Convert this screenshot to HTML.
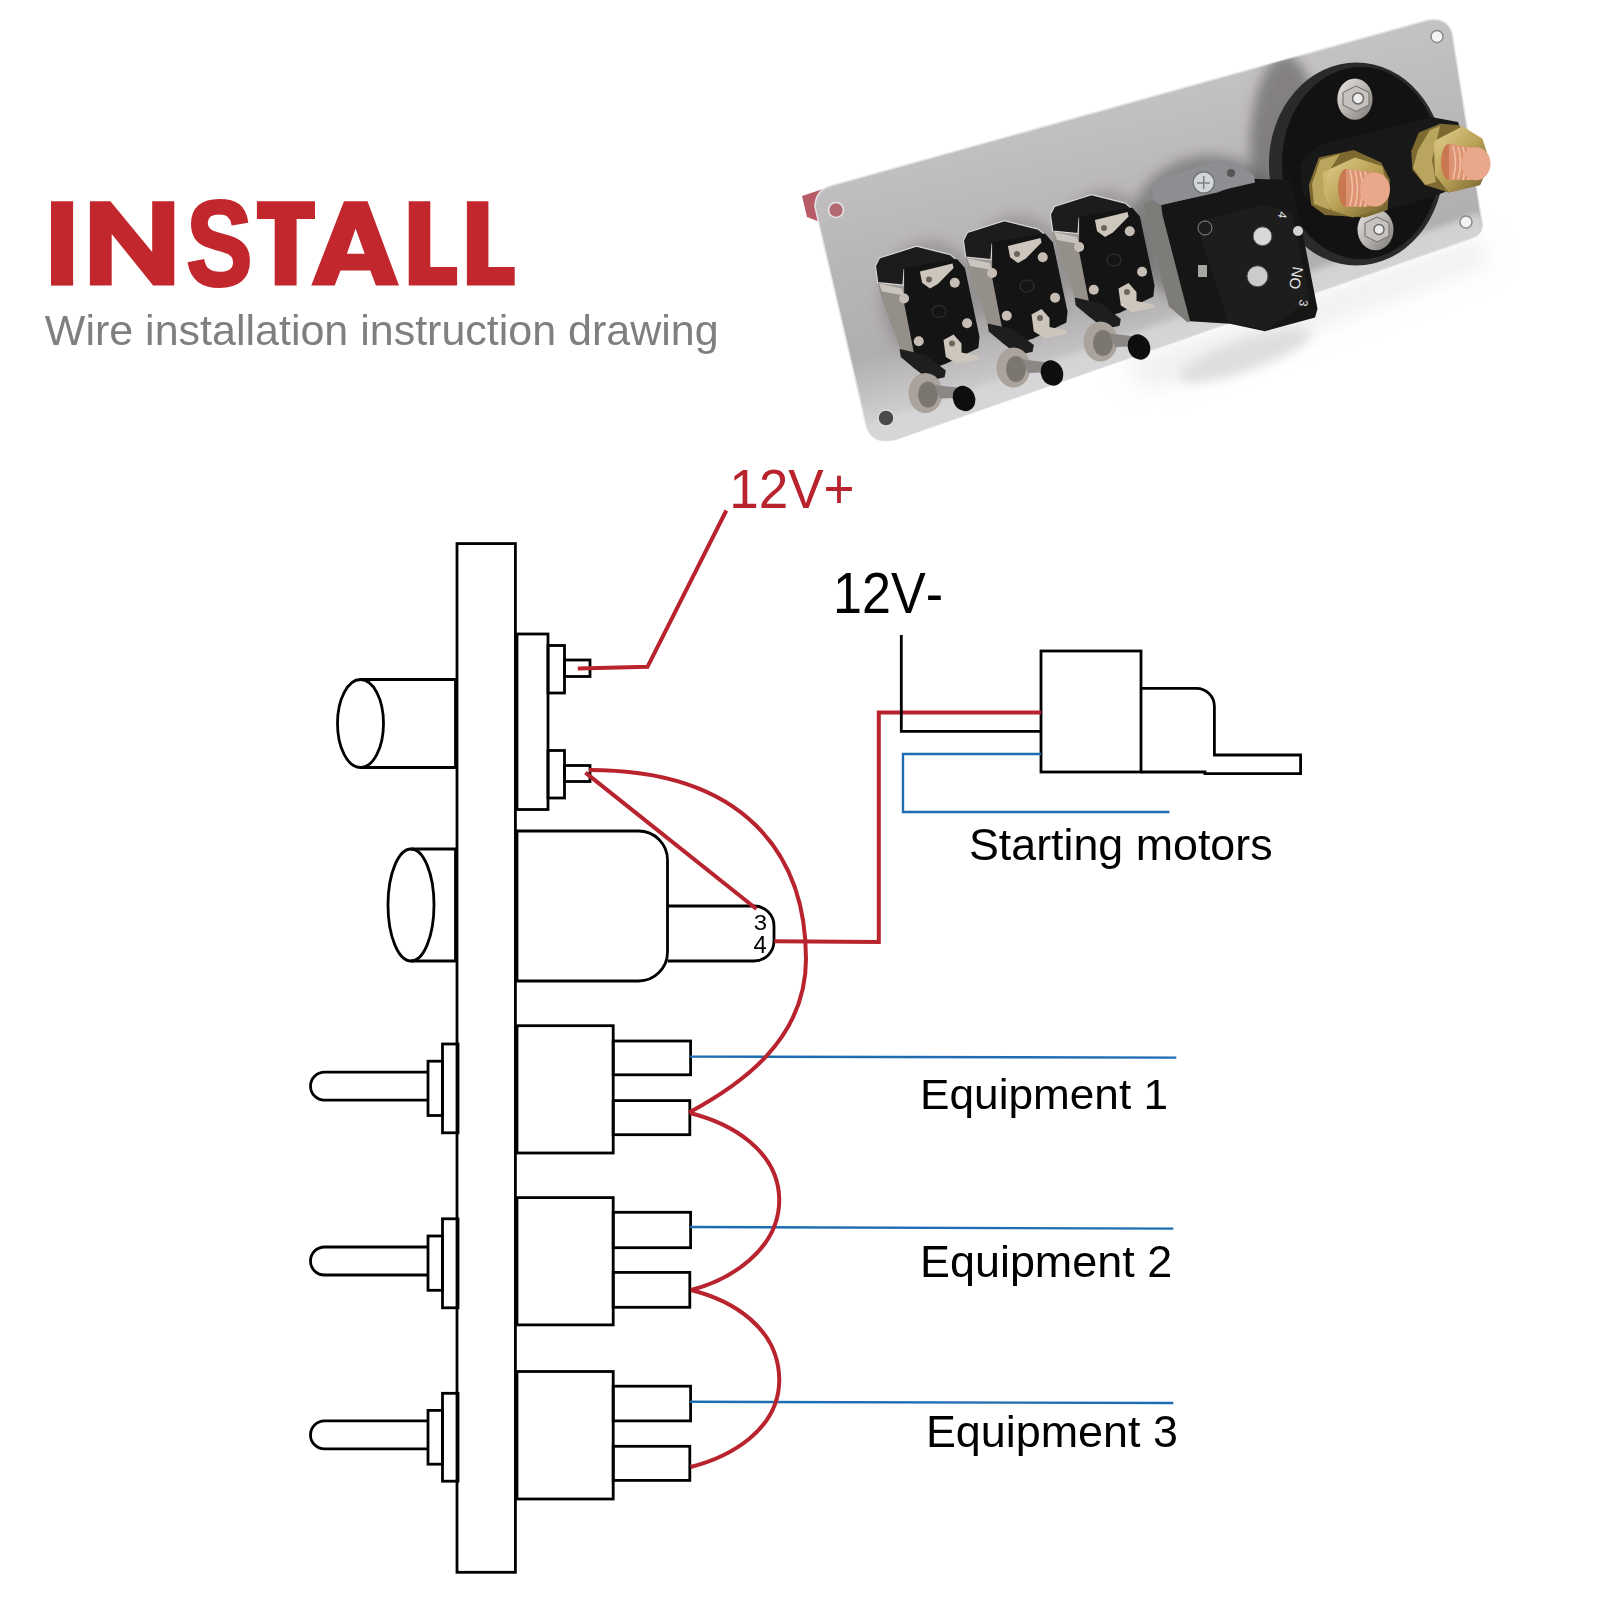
<!DOCTYPE html>
<html><head><meta charset="utf-8"><style>
html,body{margin:0;padding:0;background:#fff;width:1600px;height:1600px;overflow:hidden}
svg{position:absolute;left:0;top:0}
text{font-family:"Liberation Sans",sans-serif;font-kerning:none}
</style></head><body>
<svg width="1600" height="1600" viewBox="0 0 1600 1600">
<rect width="1600" height="1600" fill="#fff"/>

<g fill="#c1272d">
 <rect x="51" y="201.25" width="22.1" height="84.35"/>
 <path d="M89.9 201.25H110.4L152.2 251.9V201.25H174.3V285.6H153.1L111.7 233.9V285.6H89.9Z"/>
 <path d="M248.4 261.2Q248.4 273.4 241.0 279.9Q233.6 286.4 219.3 286.4Q206.3 286.4 198.8 280.7Q191.4 275.0 189.3 263.5L203.0 260.7Q204.4 267.3 208.5 270.3Q212.5 273.3 219.7 273.3Q234.6 273.3 234.6 262.2Q234.6 258.6 232.9 256.3Q231.2 254.0 228.0 252.5Q224.9 250.9 216.1 248.7Q208.5 246.5 205.5 245.2Q202.5 243.9 200.1 242.1Q197.7 240.3 196.0 237.7Q194.4 235.2 193.4 231.7Q192.5 228.3 192.5 223.8Q192.5 212.5 199.4 206.5Q206.3 200.5 219.5 200.5Q232.1 200.5 238.5 205.4Q244.8 210.2 246.6 221.4L232.8 223.7Q231.8 218.3 228.5 215.6Q225.3 212.9 219.2 212.9Q206.3 212.9 206.3 222.8Q206.3 226.1 207.7 228.2Q209.0 230.2 211.7 231.7Q214.4 233.1 222.7 235.3Q232.5 237.9 236.7 240.0Q240.9 242.2 243.3 245.1Q245.8 248.0 247.1 252.0Q248.4 255.9 248.4 261.2Z" stroke="#c1272d" stroke-width="3"/>
 <path d="M256.9 201.25H315V219H296.6V285.6H274.7V219H256.9Z"/>
 <path fill-rule="evenodd" d="M311.25 285.6L344 201.25H367.5L399 285.6H375.9L370.3 270.6H340.5L334.7 285.6Z M346.9 253.75H364.7L355.6 228.4Z"/>
 <path d="M408.75 201.25H430.3V266.9H457.1V285.6H408.75Z"/>
 <path d="M466.9 201.25H488.4V266.9H514.7V285.6H466.9Z"/>
</g>
<defs>
  <linearGradient id="plateG" x1="1130" y1="80" x2="1190" y2="360" gradientUnits="userSpaceOnUse">
    <stop offset="0" stop-color="#c6c3c5"/>
    <stop offset="0.4" stop-color="#b9b6b8"/>
    <stop offset="0.75" stop-color="#b1aeb0"/>
    <stop offset="1" stop-color="#d3d2d4"/>
  </linearGradient>
  <radialGradient id="copperG" cx="0.45" cy="0.4" r="0.65">
    <stop offset="0" stop-color="#f4c3a8"/>
    <stop offset="0.7" stop-color="#e7a584"/>
    <stop offset="1" stop-color="#b9714f"/>
  </radialGradient>
  <linearGradient id="goldG" x1="0" y1="0" x2="1" y2="1">
    <stop offset="0" stop-color="#e3d190"/>
    <stop offset="0.5" stop-color="#b9a155"/>
    <stop offset="1" stop-color="#6f5e2c"/>
  </linearGradient>
  <linearGradient id="silverG" x1="0" y1="0" x2="1" y2="1">
    <stop offset="0" stop-color="#e8e6e4"/>
    <stop offset="0.5" stop-color="#b9b5b1"/>
    <stop offset="1" stop-color="#7b7773"/>
  </linearGradient>
  <filter id="blur6" x="-50%" y="-50%" width="200%" height="200%"><feGaussianBlur stdDeviation="6"/></filter>
  <filter id="blur3" x="-50%" y="-50%" width="200%" height="200%"><feGaussianBlur stdDeviation="3"/></filter>
  <clipPath id="plateClip">
    <path d="M815 207Q815 191 830 186L1428 20Q1446 17 1452 32L1482 222Q1484 234 1472 238L897 439Q872 446 866 425Z"/>
  </clipPath>
  <g id="sw">
  <path d="M963.4 240.4L967.4 232.5L1004.5 220.7L1011.3 222.4L1038.2 229.1L1045.0 234.7L1045.0 240.0L992.1 244.0L991.0 259.5L965.7 257.2Z" fill="#1c1c1c" stroke="#d9d6d2" stroke-width="1.2"/>
  <path d="M965.7 257.2L991.0 262.9L1009.0 330.0L988.8 325.0L969.6 273.0Z" fill="#958f89"/>
  <path d="M967.0 258.0L990.0 263.0L992.0 270.0L970.0 266.0Z" fill="#c9c4be"/>
  <path d="M992.1 242.6L1045.0 233.6L1052.9 242.6L1067.5 311.2L1066.4 322.5L1033.8 338.2L1014.6 345.0L1003.4 334.9L992.1 277.5Z" fill="#141414"/>
  <path d="M1007.9 246.0L1040.5 238.1L1041.6 242.6L1025.9 258.4L1018.0 262.9L1010.1 257.2Z" fill="#cdc6bc"/>
  <circle cx="1017" cy="254" r="3" fill="#6d655c"/>
  <path d="M1031.5 314.6L1041.6 309.0L1049.5 318.0L1049.5 327.0L1066.4 330.4L1067.5 333.8L1045.0 338.2L1033.8 331.5Z" fill="#cdc6bc"/>
  <circle cx="1040" cy="318" r="3" fill="#6d655c"/>
  <circle cx="992.1" cy="273" r="5" fill="#c6beb4"/>
  <circle cx="1042.75" cy="257.25" r="5" fill="#c6beb4"/>
  <circle cx="1006.75" cy="315.75" r="5" fill="#c6beb4"/>
  <circle cx="1055.1" cy="297.75" r="5" fill="#c6beb4"/>
  <ellipse cx="1027" cy="286" rx="7" ry="6" fill="none" stroke="#2a2a2a" stroke-width="1.5"/>
  <path d="M987.6 323.6L1013.5 329.2L1033.8 345.0L1032.6 351.8L1018.0 355.1L1002.2 342.8L988.8 331.5Z" fill="#1e1e1e"/>
  <ellipse cx="1013.5" cy="367.5" rx="17" ry="20" fill="#a9a39c"/>
  <ellipse cx="1016" cy="369" rx="10" ry="13" fill="#7c7670"/>
  <path d="M1022.5 359.6L1045.0 361.9L1054.0 372.0L1028.1 373.1Z" fill="#8a8785"/>
  <ellipse cx="1052" cy="373" rx="11" ry="13" transform="rotate(-25 1052 373)" fill="#0e0e0e"/>
</g>
</defs>
<g id="photo">
  <filter id="blur12" x="-50%" y="-50%" width="200%" height="200%"><feGaussianBlur stdDeviation="12"/></filter>
  <path d="M1120 365L1480 238L1490 262L1150 390Z" fill="#efeff1" filter="url(#blur12)"/>
  <ellipse cx="1245" cy="355" rx="70" ry="16" transform="rotate(-19 1245 355)" fill="#dedee0" filter="url(#blur6)"/>
  <path d="M802 196L826 188L820 222L807 217Z" fill="#b75b66"/>
  <path d="M815 207Q815 191 830 186L1428 20Q1446 17 1452 32L1482 222Q1484 234 1472 238L897 439Q872 446 866 425Z" fill="url(#plateG)"/>
  <path d="M815 207Q815 191 830 186L1428 20Q1446 17 1452 32L1482 222Q1484 234 1472 238L897 439Q872 446 866 425Z" fill="none" stroke="#e4e4e6" stroke-width="1.5"/>
  <g clip-path="url(#plateClip)">
    <ellipse cx="930" cy="300" rx="50" ry="60" fill="#7d7a79" opacity="0.45" filter="url(#blur6)"/>
    <ellipse cx="1018" cy="275" rx="50" ry="60" fill="#7d7a79" opacity="0.45" filter="url(#blur6)"/>
    <ellipse cx="1105" cy="250" rx="50" ry="60" fill="#7d7a79" opacity="0.45" filter="url(#blur6)"/>
    <ellipse cx="1210" cy="230" rx="80" ry="75" fill="#5f5d5d" opacity="0.55" filter="url(#blur6)"/>
    <ellipse cx="1285" cy="150" rx="35" ry="95" fill="#5a5858" opacity="0.6" filter="url(#blur6)"/>
    <path d="M860 428L1480 213L1490 245L870 455Z" fill="#d6d6d8" opacity="0.9" filter="url(#blur3)"/>
  </g>
  <circle cx="836" cy="210" r="7.5" fill="#b46a72" stroke="#e8e8e8" stroke-width="1.5"/>
  <circle cx="886" cy="418" r="8" fill="#4a4a4c" stroke="#dcdcdc" stroke-width="1.5"/>
  <circle cx="1437" cy="36.5" r="6" fill="#f4f4f4" stroke="#8a8a8a" stroke-width="1.5"/>
  <circle cx="1466" cy="222" r="6" fill="#f4f4f4" stroke="#8a8a8a" stroke-width="1.5"/>

  <ellipse cx="1356.4" cy="164" rx="87.5" ry="101.5" fill="#2a2a2a"/>
  <ellipse cx="1361" cy="163" rx="79" ry="96" fill="#121212"/>
  <path d="M1300 165Q1315 140 1350 138Q1390 128 1431 117L1458 122L1462 135L1445 192Q1400 210 1360 212Q1318 212 1303 195Z" fill="#181818"/>
  <ellipse cx="1354.9" cy="99.1" rx="17.6" ry="20.6" fill="url(#silverG)"/>
  <path d="M1356.0 86.0L1369.0 92.5L1369.0 105.0L1356.0 111.5L1343.0 105.0L1343.0 92.5Z" fill="#c5c2bf" stroke="#6f6b67" stroke-width="1"/>
  <circle cx="1358" cy="98.5" r="5.5" fill="#ececec" stroke="#6a6a6a" stroke-width="1.5"/>
  <ellipse cx="1375.5" cy="229.6" rx="18" ry="20.6" fill="url(#silverG)"/>
  <path d="M1377.0 217.0L1389.0 223.0L1389.0 236.0L1377.0 242.0L1365.0 236.0L1365.0 223.0Z" fill="#c5c2bf" stroke="#6f6b67" stroke-width="1"/>
  <circle cx="1379" cy="229.5" r="5" fill="#ececec" stroke="#6a6a6a" stroke-width="1.5"/>
  <!-- nut 2 -->
  <path d="M1411.2 151.2L1418.8 132.5L1440.0 123.8L1457.5 125.0L1481.2 138.8L1490.0 162.5L1480.0 185.0L1448.8 192.5L1425.0 185.0L1412.5 170.0Z" fill="#7d6a30"/>
  <path d="M1433.8 141.2L1462.5 126.2L1482.5 138.8L1490.0 162.5L1480.0 185.0L1448.8 192.5L1435.0 175.0Z" fill="url(#goldG)"/>
  <path d="M1418 150L1430 130L1440 126L1432 160L1436 182L1425 185L1413 168Z" fill="#c9b46a" opacity="0.8"/>
  <ellipse cx="1449" cy="162" rx="8" ry="18" fill="#c8774f"/>
  <path d="M1449 144L1476 147.5V180L1449 180Z" fill="#dc9373"/>
  <path d="M1453 146Q1458 162 1453 179M1458 146.5Q1463 162 1458 179.5M1463 147Q1468 163 1463 180M1468 147Q1473 163 1468 180" fill="none" stroke="#f3bfa3" stroke-width="1.6"/>
  <ellipse cx="1476" cy="163.75" rx="14.5" ry="16.5" fill="#e9a78b"/>
  <!-- nut 1 -->
  <path d="M1308.8 185.0L1318.8 157.5L1353.8 150.0L1381.2 162.5L1390.0 180.0L1387.5 210.0L1365.0 217.5L1325.0 215.0L1311.2 205.0Z" fill="#7d6a30"/>
  <path d="M1322.5 172.5L1355.0 157.5L1382.5 166.2L1387.5 190.0L1382.5 208.8L1352.5 217.5L1331.2 210.0L1323.8 192.5Z" fill="url(#goldG)"/>
  <path d="M1312 184L1320 160L1340 154L1326 176L1330 210L1314 204Z" fill="#c9b46a" opacity="0.8"/>
  <ellipse cx="1346" cy="188" rx="8" ry="19" fill="#c8774f"/>
  <path d="M1346 169L1375 172.5V206L1346 207Z" fill="#dc9373"/>
  <path d="M1350 170Q1355 188 1350 206M1355 170.5Q1360 188 1355 206.5M1360 171Q1365 189 1360 207M1365 171.5Q1370 189 1365 207" fill="none" stroke="#f3bfa3" stroke-width="1.6"/>
  <ellipse cx="1375" cy="189.4" rx="15" ry="17" fill="#e9a78b"/>

  <path d="M1143.8 203.8L1152.5 200.0L1161.2 205.0L1190.0 321.2L1187.5 322.5L1168.8 306.2L1151.2 237.5Z" fill="#7e7c79"/>
  <path d="M1161.2 205.0L1217.5 192.5L1252.5 178.8L1290.0 180.0L1296.2 202.5L1305.0 245.0L1317.5 308.8L1315.0 317.5L1265.0 331.2L1230.0 323.8L1190.0 321.2L1162.5 215.0Z" fill="#161616"/>
  <path d="M1152.5 182.5L1200.0 166.2L1225.0 160.0L1237.5 163.8L1253.8 175.0L1255.0 182.5L1217.5 191.2L1161.2 205.0L1152.5 200.0Z" fill="#8c8e92"/>
  <path d="M1196.0 222.0L1262.0 205.0L1292.0 212.0L1310.0 300.0L1266.0 330.0L1228.0 322.0Z" fill="#1d1d1d"/>
  <circle cx="1203.75" cy="182.5" r="10.6" fill="#d3d6d8" stroke="#707070" stroke-width="1.2"/>
  <path d="M1197 183H1210M1203.75 176V189" stroke="#7d8184" stroke-width="1.5"/>
  <circle cx="1231" cy="173" r="4" fill="#555"/>
  <circle cx="1262.5" cy="236.25" r="9.4" fill="#d6d8da" stroke="#4a4a4a" stroke-width="1"/>
  <circle cx="1257.5" cy="276.25" r="10.5" fill="#c9cbcd" stroke="#4a4a4a" stroke-width="1"/>
  <circle cx="1298" cy="231" r="5" fill="#d0d2d4"/>
  <rect x="1198" y="265" width="9" height="12" fill="#a8a6a2"/>
  <circle cx="1205" cy="228" r="7" fill="none" stroke="#8a8a8a" stroke-width="1"/>
  <text x="0" y="0" font-size="12" fill="#e6e6e6" transform="translate(1279 211) rotate(100)">4</text>
  <text x="0" y="0" font-size="15" fill="#e6e6e6" transform="translate(1293 266) rotate(100)">NO</text>
  <text x="0" y="0" font-size="12" fill="#e6e6e6" transform="translate(1300 299) rotate(100)">3</text>

  <use href="#sw" transform="translate(87 -26)"/>
  <use href="#sw"/>
  <use href="#sw" transform="translate(-88 25.5)"/>
</g>

<g fill="none" stroke="#000" stroke-width="2.8" stroke-linejoin="miter">
  <rect x="457" y="543.6" width="58.4" height="1028.7"/>
  <ellipse cx="360.5" cy="723.5" rx="23" ry="44"/>
  <path d="M360.5 679.5H455.5V767.5H360.5"/>
  <rect x="517" y="634" width="31" height="175.5"/>
  <rect x="548" y="645.5" width="16.5" height="47.5"/>
  <rect x="564.5" y="660" width="25.5" height="16.5"/>
  <rect x="548" y="750.5" width="16.5" height="47.5"/>
  <rect x="564.5" y="765.5" width="25.5" height="16"/>
  <ellipse cx="411" cy="905" rx="23" ry="56"/>
  <path d="M411 849H455.5V961H411"/>
  <path d="M517 831H638.5A29 29 0 0 1 667.5 860V952A29 29 0 0 1 638.5 981H517Z"/>
  <path d="M667.5 906H754A20 20 0 0 1 774 926V941A20 20 0 0 1 754 961H667.5"/>
  <path d="M428 1072.2H324.5A14 14 0 0 0 324.5 1100.2H428"/>
  <rect x="428" y="1061.2" width="14.5" height="54.3"/>
  <rect x="442.5" y="1044" width="15.5" height="88.8"/>
  <rect x="517" y="1025.7" width="96.2" height="127.3"/>
  <rect x="613.2" y="1041" width="77.4" height="33.8"/>
  <rect x="613.2" y="1100.6" width="76.6" height="34.1"/>
  <path d="M428 1247H324.5A14 14 0 0 0 324.5 1275H428"/>
  <rect x="428" y="1236" width="14.5" height="54.3"/>
  <rect x="442.5" y="1218.8" width="15.5" height="89"/>
  <rect x="517" y="1197.6" width="96.2" height="127.3"/>
  <rect x="613.2" y="1212.3" width="77.4" height="35.4"/>
  <rect x="613.2" y="1272.4" width="76.6" height="34.9"/>
  <path d="M428 1420.9H324.5A14 14 0 0 0 324.5 1448.9H428"/>
  <rect x="428" y="1410.4" width="14.5" height="53.8"/>
  <rect x="442.5" y="1393.3" width="15.5" height="87.9"/>
  <rect x="517" y="1371.5" width="96.2" height="127.5"/>
  <rect x="613.2" y="1386.2" width="77.4" height="34.7"/>
  <rect x="613.2" y="1446.3" width="76.6" height="34.1"/>
  <rect x="1041" y="651" width="100" height="121"/>
  <path d="M1141 688.4H1196A18 18 0 0 1 1214.4 706.4V755H1300.6V773.6H1205V772H1141"/>
</g>
<g fill="none" stroke="#1e6db3" stroke-width="2.4">
  <path d="M1041 754H903V812H1169.4"/>
  <path d="M690 1056.6L1176.3 1057.6"/>
  <path d="M690 1227L1173.3 1228.6"/>
  <path d="M690 1401.8L1173.3 1403"/>
</g>
<g fill="none" stroke="#b8232e" stroke-width="4" stroke-linejoin="miter">
  <path d="M577.8 668.4L647.5 666.8L726.3 510.5"/>
  <path d="M585.4 772.6L756.5 909"/>
  <path d="M774.3 941.2L878.8 942V712.5H1041"/>
  <path d="M589 770C745 770 806 855 806 959C806 1040 740 1085 689 1112.5"/>
  <path d="M690 1113C730 1123 779 1150 779.25 1200C779 1250 730 1280 691 1290"/>
  <path d="M691 1290C731 1300 779 1327 779.25 1380C779 1430 730 1457 690.5 1467"/>
</g>
<path d="M901.3 635V731.4H1041" fill="none" stroke="#000" stroke-width="2.8"/>

<g opacity="0.999"><text transform="translate(729.16 508.3) scale(0.9505 1)" font-size="55.85" fill="#b8232e" >12V+</text><text transform="translate(833.03 613) scale(0.9213 1)" font-size="56.57" fill="#000" >12V-</text><text transform="translate(968.97 860) scale(0.9954 1)" font-size="44.99" fill="#000" >Starting motors</text><text transform="translate(920.08 1109) scale(1.0324 1)" font-size="42.78" fill="#000" >Equipment 1</text><text transform="translate(920.01 1277) scale(1.0334 1)" font-size="43.47" fill="#000" >Equipment 2</text><text transform="translate(925.92 1447.3) scale(1.0294 1)" font-size="43.61" fill="#000" >Equipment 3</text><text transform="translate(753.68 929.5) scale(1.0493 1)" font-size="22.91" fill="#000" >3</text><text transform="translate(753.45 953.4) scale(0.999 1)" font-size="23.84" fill="#000" >4</text><text transform="translate(44.81 344.6) scale(1.0019 1)" font-size="42.92" fill="#7f7f7f" >Wire installation instruction drawing</text></g>
</svg>
</body></html>
